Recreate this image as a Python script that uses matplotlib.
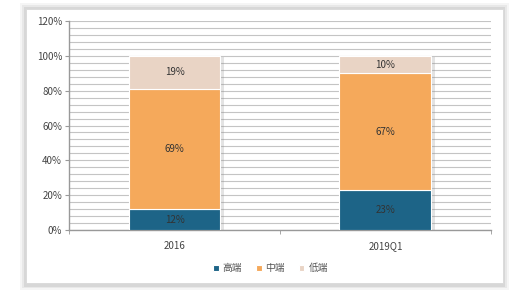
import numpy as np
import matplotlib.pyplot as plt
from matplotlib.patches import Rectangle

plt.rcParams['font.family'] = ['Noto Sans CJK SC', 'DejaVu Sans']

categories = ['2016', '2019Q1']
series = ['高端', '中端', '低端']
high = [12, 23]
mid = [69, 67]
low = [19, 10]
colors = ['#1d6487', '#f5a95b', '#e9d4c5']

fig = plt.figure(figsize=(5.2, 2.95), dpi=100)

# card with shadow
for i, a in enumerate([0.04, 0.05, 0.07]):
    d = (3 - i) * 0.004
    fig.patches.append(Rectangle((0.05 - d, 0.035 - d * 1.6), 0.917 + 2 * d, 0.935 + 2 * d * 1.6,
                                 transform=fig.transFigure, facecolor='black', alpha=a,
                                 edgecolor='none', zorder=-3))
fig.patches.append(Rectangle((0.05, 0.04), 0.917, 0.93, transform=fig.transFigure,
                             facecolor='white', edgecolor='#d8d8d8', lw=0.6, zorder=-2))

ax = fig.add_axes([0.1327, 0.2203, 0.8115, 0.7085])
ax.set_facecolor('none')

x = np.arange(len(categories))
w = 0.436
data = [high, mid, low]
bottom = np.zeros(len(categories))
for vals, c, name in zip(data, colors, series):
    # soft shadow
    ax.bar(x + 0.015, vals, w, bottom=bottom - 0.5, color='#909090', alpha=0.25, zorder=2)
    ax.bar(x, vals, w, bottom=bottom, color=c, edgecolor='white', linewidth=0.8,
           label=name, zorder=3)
    for xi, v, b in zip(x, vals, bottom):
        ax.text(xi, b + v / 2, f'{v}%', ha='center', va='center', fontsize=7,
                color='#333333', zorder=4)
    bottom += np.array(vals)

ax.set_xlim(-0.5, 1.5)
ax.set_ylim(0, 120)
ax.set_yticks(np.arange(0, 121, 20))
ax.set_yticklabels([f'{v}%' for v in range(0, 121, 20)])
ax.set_yticks(np.arange(0, 121, 4), minor=True)
ax.grid(axis='y', which='both', color='#c4c4c4', linewidth=0.8, zorder=0)
ax.set_axisbelow(True)
ax.set_xticks(x)
ax.set_xticklabels(categories)
ax.set_xticks([-0.5, 0.5, 1.5], minor=True)
ax.tick_params(axis='x', which='major', length=0, labelsize=7, labelcolor='#444444', pad=8)
ax.tick_params(axis='x', which='minor', length=3, color='#999999')
ax.tick_params(axis='y', which='major', length=3, color='#999999', labelsize=7,
               labelcolor='#444444', pad=2)
ax.tick_params(axis='y', which='minor', length=0)
for s in ['top', 'right']:
    ax.spines[s].set_visible(False)
ax.spines['left'].set_color('#999999')
ax.spines['bottom'].set_color('#999999')
ax.spines['left'].set_linewidth(1.0)
ax.spines['bottom'].set_linewidth(1.0)

leg = fig.legend(loc='center', bbox_to_anchor=(0.52, 0.09), ncol=3, frameon=False,
                 fontsize=7, handlelength=0.6, handleheight=0.6, handletextpad=0.4,
                 columnspacing=1.4)
for t in leg.get_texts():
    t.set_color('#555555')

fig.savefig('out.png', dpi=100)
